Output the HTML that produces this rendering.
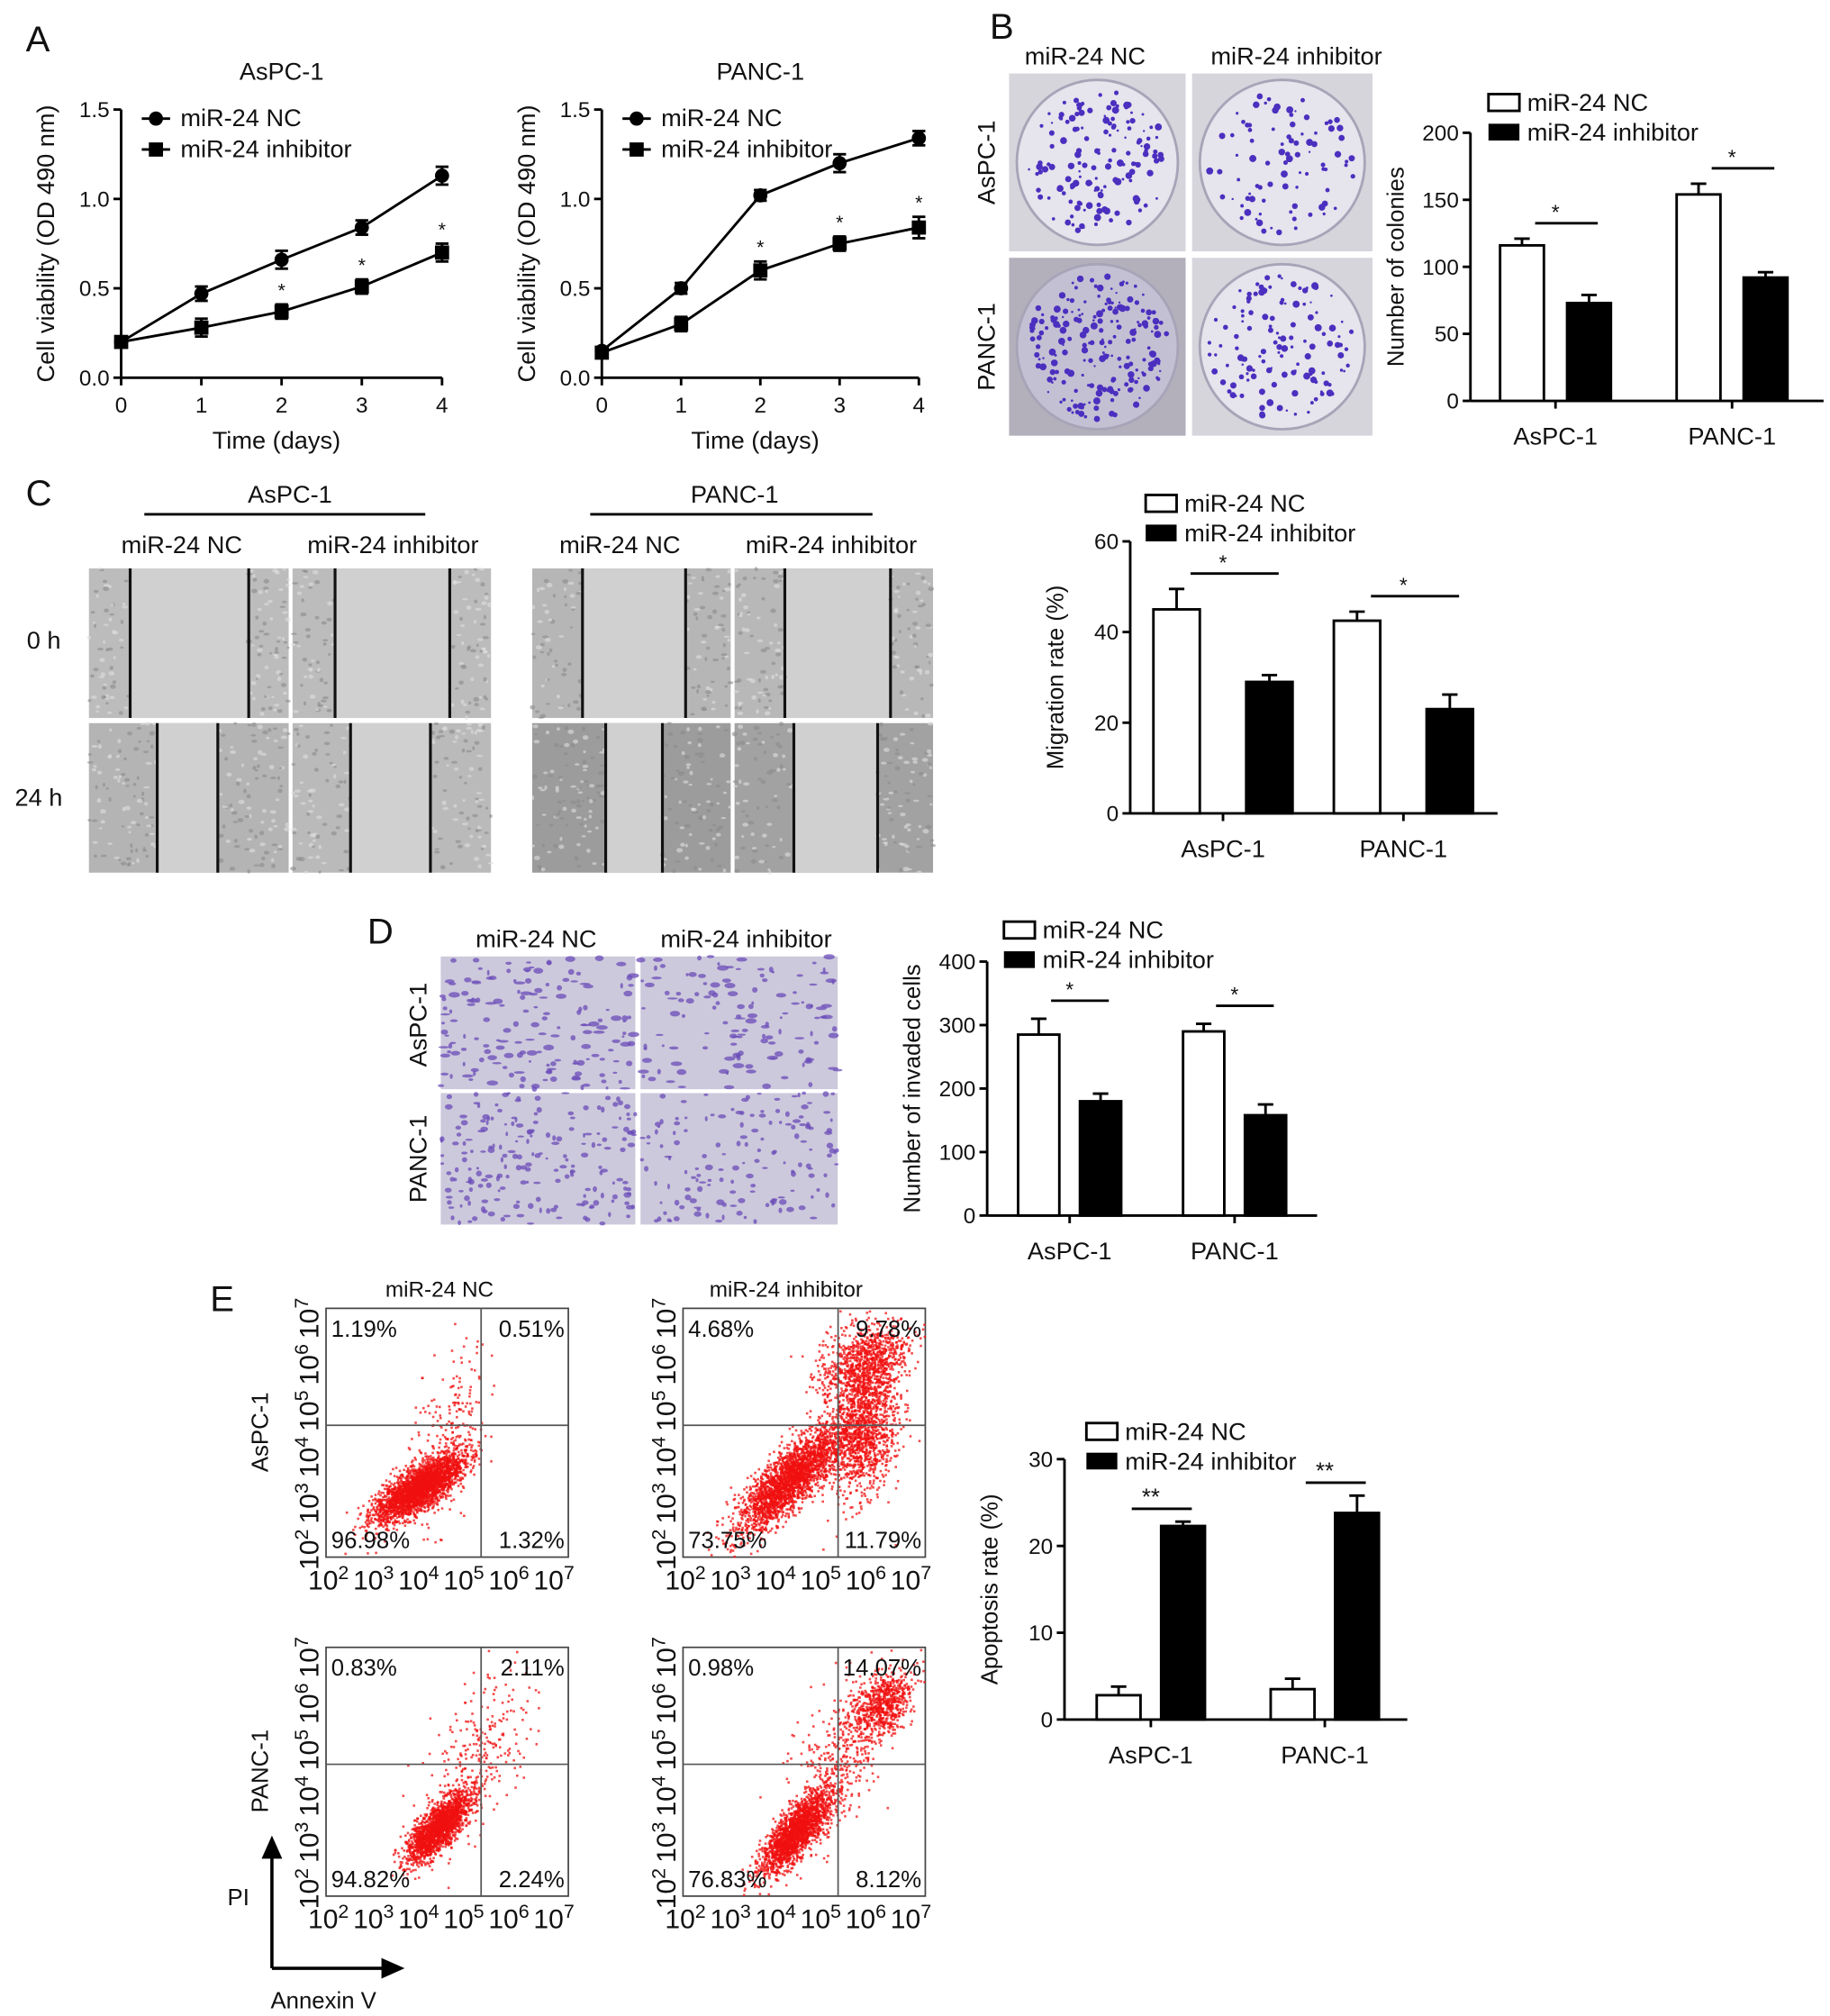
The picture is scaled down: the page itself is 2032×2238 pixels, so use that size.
<!DOCTYPE html>
<html><head><meta charset="utf-8"><style>
html,body{margin:0;padding:0;background:#fff}
svg{display:block;font-family:"Liberation Sans",Arial,sans-serif}
</style></head><body>
<svg id="fig" width="2032" height="2238" viewBox="0 0 1420 1564" preserveAspectRatio="none" xmlns="http://www.w3.org/2000/svg">
<rect width="1420" height="1564" fill="#fff"/>
<g id="root"></g>
</svg>
<script>
// ---- data ----
const days=[0,1,2,3,4];
const yTicksA=[0,0.5,1.0,1.5];
const aspcNC=[0.2,0.47,0.66,0.84,1.13];
const aspcNCErr=[0.03,0.04,0.05,0.04,0.05];
const aspcInh=[0.2,0.28,0.37,0.51,0.70];
const aspcInhErr=[0.03,0.05,0.04,0.04,0.05];
const aspcStar=[false,false,true,true,true];
const pancNC=[0.15,0.5,1.02,1.2,1.34];
const pancNCErr=[0.02,0.03,0.03,0.05,0.04];
const pancInh=[0.14,0.3,0.6,0.75,0.84];
const pancInhErr=[0.02,0.04,0.05,0.04,0.06];
const pancStar=[false,false,true,true,true];
const groups=['AsPC-1','PANC-1'];
const colonyNC=[116,154], colonyNCErr=[5,8], colonyInh=[73,92], colonyInhErr=[6,4], colonyTicks=[0,50,100,150,200];
const migNC=[45,42.5], migNCErr=[4.5,2], migInh=[29,23], migInhErr=[1.5,3.2], migTicks=[0,20,40,60];
const invNC=[285,290], invNCErr=[25,12], invInh=[180,158], invInhErr=[12,17], invTicks=[0,100,200,300,400];
const apoNC=[2.8,3.5], apoNCErr=[1,1.2], apoInh=[22.3,23.8], apoInhErr=[0.5,2], apoTicks=[0,10,20,30];
const flowLabels=[['1.19%','0.51%','96.98%','1.32%'],['4.68%','9.78%','73.75%','11.79%'],['0.83%','2.11%','94.82%','2.24%'],['0.98%','14.07%','76.83%','8.12%']];

const NS='http://www.w3.org/2000/svg';
const root=document.getElementById('root');
function el(tag,attrs,parent,text){const e=document.createElementNS(NS,tag);for(const k in attrs)e.setAttribute(k,attrs[k]);if(text!==undefined)e.textContent=text;(parent||root).appendChild(e);return e;}
function txt(x,y,s,size,parent,anchor,name,rot){const a={x:x,y:y,'font-size':size,'text-anchor':anchor||'middle',fill:'#111'};if(rot)a.transform='rotate(-90 '+x+' '+y+')';const t=el('text',a,parent,s);return t;}
let seed=12345;function rnd(){seed=(seed*1103515245+12345)%2147483648;return seed/2147483648;}
function gauss(){return Math.sqrt(-2*Math.log(rnd()+1e-9))*Math.cos(2*Math.PI*rnd());}

[['A',20,40],['B',768,30],['C',20,392],['D',285,732],['E',163,1017]].forEach(p=>{txt(p[1],p[2],p[0],28,root,'start','panel-label');});

// ---- line charts (A) ----
function lineChart(x0,x1,y0,y1,title,nc,ncE,inh,inhE,stars,name){
  const g=el('g',{},root);
  const sx=d=>x0+(x1-x0)*d/4, sy=v=>y0-(y0-y1)*v/1.5;
  el('line',{x1:x0,y1:sy(1.5),x2:x0,y2:y0,stroke:'#000','stroke-width':2},g);
  el('line',{x1:x0,y1:y0,x2:x1,y2:y0,stroke:'#000','stroke-width':2},g);
  yTicksA.forEach(v=>{el('line',{x1:x0-6,y1:sy(v),x2:x0,y2:sy(v),stroke:'#000','stroke-width':2},g);txt(x0-9,sy(v)+6,v.toFixed(1),17,g,'end','y-tick');});
  days.forEach(d=>{el('line',{x1:sx(d),y1:y0,x2:sx(d),y2:y0+6,stroke:'#000','stroke-width':2},g);txt(sx(d),y0+27,String(d),17,g,'middle','x-tick');});
  txt((x0+x1)/2,62,title,19,g,'middle','chart-title');
  txt((x0+x1)/2-4,348,'Time (days)',19,g,'middle','x-axis-title');
  txt(x0-52,(y0+sy(1.5))/2,'Cell viability (OD 490 nm)',19,g,'middle','y-axis-title',true);
  [[nc,ncE,'circle','nc'],[inh,inhE,'square','inh']].forEach(s=>{
    el('polyline',{points:s[0].map((v,i)=>sx(days[i])+','+sy(v)).join(' '),fill:'none',stroke:'#000','stroke-width':2},g);
    s[0].forEach((v,i)=>{const x=sx(days[i]);
      el('line',{x1:x,y1:sy(v+s[1][i]),x2:x,y2:sy(v-s[1][i]),stroke:'#000','stroke-width':2},g);
      el('line',{x1:x-5,y1:sy(v+s[1][i]),x2:x+5,y2:sy(v+s[1][i]),stroke:'#000','stroke-width':2},g);
      el('line',{x1:x-5,y1:sy(v-s[1][i]),x2:x+5,y2:sy(v-s[1][i]),stroke:'#000','stroke-width':2},g);
      let m;if(s[2]==='circle')m=el('circle',{cx:x,cy:sy(v),r:5.5,fill:'#000'},g);else m=el('rect',{x:x-5.5,y:sy(v)-5.5,width:11,height:11,fill:'#000'},g);
      
      if(s[3]==='inh'&&stars[i])txt(x,sy(v+s[1][i])-6,'*',15,g,'middle','significance-star');
    });
  });
  const lx=x0+16;
  el('line',{x1:lx,y1:92,x2:lx+22,y2:92,stroke:'#000','stroke-width':2},g);el('circle',{cx:lx+11,cy:92,r:5.5},g);
  txt(lx+30,98,'miR-24 NC',19,g,'start','legend-entry');
  el('line',{x1:lx,y1:116,x2:lx+22,y2:116,stroke:'#000','stroke-width':2},g);el('rect',{x:lx+5.5,y:110.5,width:11,height:11},g);
  txt(lx+30,122,'miR-24 inhibitor',19,g,'start','legend-entry');
}
lineChart(94,343,293,85,'AsPC-1',aspcNC,aspcNCErr,aspcInh,aspcInhErr,aspcStar,'aspc1-viability-chart');
lineChart(467,713,293,85,'PANC-1',pancNC,pancNCErr,pancInh,pancInhErr,pancStar,'panc1-viability-chart');

// ---- bar charts ----
function barChart(c){
  const g=el('g',{},root);
  const max=c.ticks[c.ticks.length-1];const sy=v=>c.y0-(c.y0-c.yTop)*v/max;
  el('line',{x1:c.x0,y1:c.yTop,x2:c.x0,y2:c.y0,stroke:'#000','stroke-width':2},g);
  el('line',{x1:c.x0,y1:c.y0,x2:c.xEnd,y2:c.y0,stroke:'#000','stroke-width':2},g);
  c.ticks.forEach(v=>{el('line',{x1:c.x0-6,y1:sy(v),x2:c.x0,y2:sy(v),stroke:'#000','stroke-width':2},g);txt(c.x0-9,sy(v)+6,String(v),17,g,'end','y-tick');});
  txt(c.x0-52,(c.y0+c.yTop)/2,c.ytitle,18,g,'middle','y-axis-title',true);
  groups.forEach((gr,i)=>{
    const gx=c.gx[i];
    [[c.nc,c.ncE,'#fff',gx-c.off-c.bw],[c.inh,c.inhE,'#000',gx+c.off]].forEach((s,k)=>{
      const v=s[0][i],e=s[1][i],bx=s[3];
      const r=el('rect',{x:bx,y:sy(v),width:c.bw,height:c.y0-sy(v),fill:s[2],stroke:'#000','stroke-width':2},g);
      
      el('line',{x1:bx+c.bw/2,y1:sy(v),x2:bx+c.bw/2,y2:sy(v+e),stroke:'#000','stroke-width':2},g);
      el('line',{x1:bx+c.bw/2-6,y1:sy(v+e),x2:bx+c.bw/2+6,y2:sy(v+e),stroke:'#000','stroke-width':2},g);
    });
    const top=Math.max(c.nc[i]+c.ncE[i],c.inh[i]+c.inhE[i]);
    const yb=sy(top)-c.sigGap;
    el('line',{x1:gx-c.off-c.bw/2+c.bw*0.3,y1:yb,x2:gx+c.off+c.bw/2+c.bw*0.2,y2:yb,stroke:'#000','stroke-width':2},g);
    txt(gx,yb-3,c.sig,c.sig.length>1?18:16,g,'middle','significance-star');
    el('line',{x1:gx,y1:c.y0,x2:gx,y2:c.y0+6,stroke:'#000','stroke-width':2},g);
    txt(gx,c.y0+34,gr,19,g,'middle','x-tick');
  });
  const lx=c.lx,ly=c.ly;
  el('rect',{x:lx,y:ly-12,width:24,height:13,fill:'#fff',stroke:'#000','stroke-width':2},g);
  txt(lx+30,ly+1,'miR-24 NC',19,g,'start','legend-entry');
  el('rect',{x:lx,y:ly+11,width:24,height:13,fill:'#000'},g);
  txt(lx+30,ly+24,'miR-24 inhibitor',19,g,'start','legend-entry');
}
barChart({name:'colony-bar-chart',x0:1141,y0:311,yTop:103,xEnd:1415,ticks:colonyTicks,gx:[1207,1344],bw:34,off:9,nc:colonyNC,ncE:colonyNCErr,inh:colonyInh,inhE:colonyInhErr,ytitle:'Number of colonies',sig:'*',sigGap:12,lx:1155,ly:85});
barChart({name:'migration-bar-chart',x0:877,y0:631,yTop:420,xEnd:1162,ticks:migTicks,gx:[949,1089],bw:36,off:18,nc:migNC,ncE:migNCErr,inh:migInh,inhE:migInhErr,ytitle:'Migration rate (%)',sig:'*',sigGap:12,lx:889,ly:396});
barChart({name:'invasion-bar-chart',x0:766,y0:943,yTop:746,xEnd:1022,ticks:invTicks,gx:[830,958],bw:32,off:8,nc:invNC,ncE:invNCErr,inh:invInh,inhE:invInhErr,ytitle:'Number of invaded cells',sig:'*',sigGap:14,lx:779,ly:727});
barChart({name:'apoptosis-bar-chart',x0:826,y0:1334,yTop:1132,xEnd:1092,ticks:apoTicks,gx:[893,1028],bw:34,off:8,nc:apoNC,ncE:apoNCErr,inh:apoInh,inhE:apoInhErr,ytitle:'Apoptosis rate (%)',sig:'**',sigGap:10,lx:843,ly:1116});

// ---- B colony photos ----
function dish(x,y,w,h,n,dark){
  const g=el('g',{},root);
  el('rect',{x:x,y:y,width:w,height:h,fill:dark?'#b3b0bc':'#d6d5dc'},g);
  el('ellipse',{cx:x+w/2,cy:y+h/2,rx:w/2-6,ry:h/2-5,fill:dark?'#c4c0d4':'#e6e4ec',stroke:'#a8a4b8','stroke-width':2},g);
  for(let i=0;i<n;i++){const a=rnd()*6.283,r=Math.sqrt(rnd())*0.92;el('circle',{cx:x+w/2+Math.cos(a)*r*(w/2-8),cy:y+h/2+Math.sin(a)*r*(h/2-8),r:0.8+rnd()*2,fill:'#4b2fbf'},g);}
}
dish(783,57,137,138,150,false);dish(925,57,140,138,90,false);dish(783,200,137,138,200,true);dish(925,200,140,138,130,false);
txt(842,50,'miR-24 NC',19,root,'middle','column-label');txt(1006,50,'miR-24 inhibitor',19,root,'middle','column-label');
txt(772,126,'AsPC-1',19,root,'middle','row-label',true);txt(772,269,'PANC-1',19,root,'middle','row-label',true);

// ---- C wound photos ----
function wound(x,y,w,h,l1,l2,base,name){
  const g=el('g',{},root);
  el('rect',{x:x,y:y,width:w,height:h,fill:base},g);
  el('rect',{x:x+l1,y:y,width:l2-l1,height:h,fill:'#d0d0d0'},g);
  for(let i=0;i<260;i++){let px=x+rnd()*w;if(px>x+l1&&px<x+l2)continue;el('ellipse',{cx:px,cy:y+rnd()*h,rx:1+rnd()*1.5,ry:0.8+rnd(),fill:rnd()<0.5?'#8a8a8a':'#e0e0e0',opacity:0.6},g);}
  el('line',{x1:x+l1,y1:y,x2:x+l1,y2:y+h,stroke:'#111','stroke-width':2.2},g);
  el('line',{x1:x+l2,y1:y,x2:x+l2,y2:y+h,stroke:'#111','stroke-width':2.2},g);
}
wound(69,441,155,116,32,124,'#bcbcbc','wound-photo');wound(227,441,154,116,33,122,'#bcbcbc','wound-photo');
wound(69,561,155,116,53,100,'#b4b4b4','wound-photo');wound(227,561,154,116,45,107,'#bababa','wound-photo');
wound(413,441,154,116,39,119,'#b6b6b6','wound-photo');wound(570,441,154,116,39,121,'#b8b8b8','wound-photo');
wound(413,561,154,116,57,101,'#9c9c9c','wound-photo');wound(570,561,154,116,46,111,'#a2a2a2','wound-photo');
el('line',{x1:112,y1:399,x2:330,y2:399,stroke:'#000','stroke-width':2});el('line',{x1:458,y1:399,x2:677,y2:399,stroke:'#000','stroke-width':2});
txt(225,390,'AsPC-1',19,root,'middle','group-label');txt(570,390,'PANC-1',19,root,'middle','group-label');
txt(141,429,'miR-24 NC',19,root,'middle','column-label');txt(305,429,'miR-24 inhibitor',19,root,'middle','column-label');
txt(481,429,'miR-24 NC',19,root,'middle','column-label');txt(645,429,'miR-24 inhibitor',19,root,'middle','column-label');
txt(34,503,'0 h',19,root,'middle','row-label');txt(30,625,'24 h',19,root,'middle','row-label');

// ---- D transwell photos ----
function transwell(x,y,w,h,n,big){
  const g=el('g',{},root);
  el('rect',{x:x,y:y,width:w,height:h,fill:'#cdc9dc'},g);
  for(let i=0;i<n;i++){el('ellipse',{cx:x+rnd()*w,cy:y+rnd()*h,rx:1+rnd()*(big?3.5:2.2),ry:0.8+rnd()*1.5,fill:'#6a4bb8',opacity:0.75},g);}
}
transwell(342,742,151,103,170,true);transwell(497,742,153,103,130,true);transwell(342,848,151,102,200,false);transwell(497,848,153,102,150,false);
txt(416,735,'miR-24 NC',19,root,'middle','column-label');txt(579,735,'miR-24 inhibitor',19,root,'middle','column-label');
txt(331,795,'AsPC-1',19,root,'middle','row-label',true);txt(331,899,'PANC-1',19,root,'middle','row-label',true);

// ---- E flow plots ----
function flow(x,y,labels,clusters,name){
  const g=el('g',{},root);
  const w=188,h=193;
  el('rect',{x:x,y:y,width:w,height:h,fill:'#fff',stroke:'#444','stroke-width':1.2},g);
  clusters.forEach(c=>{for(let i=0;i<c[4];i++){const a=gauss(),b=gauss();const px=x+w*(c[0]+a*c[2]);const py=y+h*(c[1]-(a*c[2]*c[5])+b*c[3]);
    if(px<x+1||px>x+w-1||py<y+1||py>y+h-1)continue;el('rect',{x:px,y:py,width:1.8,height:1.8,fill:'#f01010',opacity:0.75},g);}});
  const qx=x+w*0.64,qy=y+h*0.47;
  el('line',{x1:qx,y1:y,x2:qx,y2:y+h,stroke:'#555','stroke-width':1.2},g);
  el('line',{x1:x,y1:qy,x2:x+w,y2:qy,stroke:'#555','stroke-width':1.2},g);
  txt(x+4,y+22,labels[0],18,g,'start','quadrant-percent');txt(x+w-3,y+22,labels[1],18,g,'end','quadrant-percent');
  txt(x+4,y+h-7,labels[2],18,g,'start','quadrant-percent');txt(x+w-3,y+h-7,labels[3],18,g,'end','quadrant-percent');
  const ex=['2','3','4','5','6','7'];
  ex.forEach((e,i)=>{const tx=x-14+i*(w+8)/5.6;const t=el('text',{x:tx,y:y+h+25,'font-size':21,fill:'#111'},g);t.textContent='10';const s=el('tspan',{'font-size':15,dy:-8},t);s.textContent=e;});
  ex.forEach((e,i)=>{const ty=y+h+10-i*(h+8)/5.6;const t=el('text',{x:x-6,y:ty,'font-size':21,fill:'#111',transform:'rotate(-90 '+(x-6)+' '+ty+')'},g);t.textContent='10';const s=el('tspan',{'font-size':15,dy:-8},t);s.textContent=e;});
}
// clusters: [cx,cy,sx,sy,n,slope] (fractions of plot)
flow(253,1015,flowLabels[0],[[0.38,0.72,0.09,0.045,2600,0.55],[0.5,0.5,0.08,0.15,250,1.2]],'flow-aspc1-nc');
flow(530,1015,flowLabels[1],[[0.44,0.68,0.11,0.06,2400,0.8],[0.74,0.5,0.07,0.12,1200,0.5],[0.74,0.22,0.09,0.08,1000,0.3]],'flow-aspc1-inhibitor');
flow(253,1278,flowLabels[2],[[0.46,0.72,0.065,0.045,1800,0.8],[0.62,0.45,0.12,0.15,300,1.0]],'flow-panc1-nc');
flow(530,1278,flowLabels[3],[[0.46,0.74,0.07,0.05,1900,0.9],[0.82,0.22,0.06,0.06,600,0.4],[0.65,0.45,0.12,0.14,500,1.0]],'flow-panc1-inhibitor');
txt(341,1006,'miR-24 NC',17,root,'middle','column-label');txt(610,1006,'miR-24 inhibitor',17,root,'middle','column-label');
txt(208,1111,'AsPC-1',18,root,'middle','row-label',true);txt(208,1374,'PANC-1',18,root,'middle','row-label',true);
el('line',{x1:211,y1:1527,x2:211,y2:1438,stroke:'#000','stroke-width':2.5});el('polygon',{points:'211,1424 203,1442 219,1442',fill:'#000'});
el('line',{x1:211,y1:1527,x2:300,y2:1527,stroke:'#000','stroke-width':2.5});el('polygon',{points:'314,1527 296,1519 296,1535',fill:'#000'});
txt(185,1478,'PI',18,root,'middle','y-axis-title');txt(251,1558,'Annexin V',18,root,'middle','x-axis-title');
</script>
</body></html>
